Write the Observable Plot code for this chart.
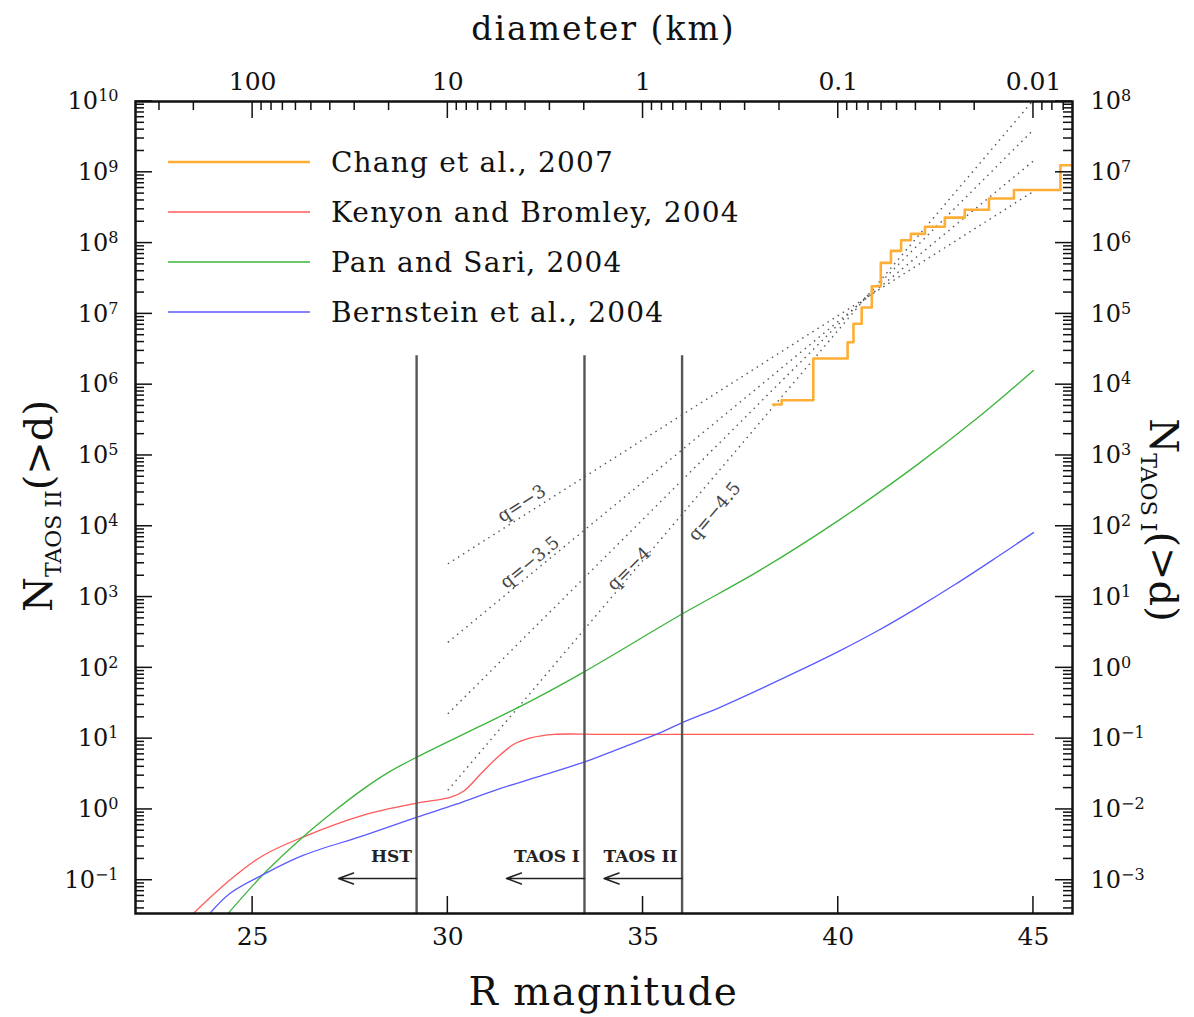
<!DOCTYPE html>
<html>
<head>
<meta charset="utf-8">
<script src="https://cdn.jsdelivr.net/npm/d3@7"></script>
<script src="https://cdn.jsdelivr.net/npm/@observablehq/plot@0.6"></script>
<style>
html,body{margin:0;padding:0;background:#fff;}
#chart{width:1194px;height:1017px;}
</style>
</head>
<body>
<div id="chart"></div>
<script>
// ---------------- DATA (R magnitude, log10 N) ----------------
const seriesNames = ["Chang et al., 2007", "Kenyon and Bromley, 2004", "Pan and Sari, 2004", "Bernstein et al., 2004"];
const seriesColors = ["#ffae35", "#ff5a5a", "#3cb43c", "#5a5aff"];

// Chang et al. 2007 (step function)
const changR    = [38.33, 38.55, 39.36, 40.24, 40.39, 40.60, 40.86, 41.09, 41.35, 41.61, 41.86, 42.22, 42.73, 43.24, 43.86, 44.50, 45.69, 45.95];
const changLogN = [5.72,  5.78,  6.37,  6.60,  6.86,  7.09,  7.39,  7.72,  7.89,  8.04,  8.13,  8.23,  8.36,  8.47,  8.63,  8.75,  9.10,  9.10];

// Kenyon and Bromley 2004
const kenyonR    = [23.48, 24.41, 25.27, 26.29, 27.84, 29.22, 30.06, 30.41, 30.84, 31.26, 31.69, 32.12, 32.72, 34.0, 38.0, 42.0, 45.0];
const kenyonLogN = [-1.47, -1.00, -0.65, -0.39, -0.08, 0.09,  0.17,  0.26,  0.50,  0.73,  0.92,  1.01,  1.06,  1.06, 1.06, 1.06, 1.06];

// Pan and Sari 2004
const panR    = [24.37, 25.27, 26.29, 27.1, 27.84, 28.5, 29.21, 30.84, 32.12, 33.48, 36.0, 38.0, 40.0, 42.0, 43.5, 45.0];
const panLogN = [-1.47, -0.92, -0.39, -0.02, 0.29, 0.53, 0.74,  1.18,  1.53,  1.94,  2.76, 3.38, 4.08, 4.86, 5.50, 6.20];

// Bernstein et al. 2004
const bernR    = [23.9, 24.41, 25.27, 26.29, 27.84, 29.21, 30.2, 31.26, 32.3, 33.45, 34.4, 35.38, 35.98, 37.0, 38.0, 39.0, 40.0, 41.0, 42.0, 43.0, 44.0, 45.0];
const bernLogN = [-1.47, -1.19, -0.92, -0.65, -0.37, -0.11, 0.07, 0.28, 0.46, 0.66, 0.86, 1.07, 1.22, 1.45, 1.70, 1.96, 2.23, 2.52, 2.84, 3.18, 3.54, 3.91];

// power-law reference lines
const qLabels     = ["q=\u22123", "q=\u22123.5", "q=\u22124", "q=\u22124.5"];
const qStartR     = [30, 30, 30, 30];
const qStartLogN  = [3.47, 2.36, 1.35, 0.27];
const qEndR       = [45, 45, 45, 45];
const qEndLogN    = [8.73, 9.16, 9.60, 10.02];
const qLabelR     = [31.89, 32.10, 34.64, 36.83];
const qLabelLogN  = [4.32, 3.49, 3.40, 4.21];

// survey limits
const limitNames   = ["HST", "TAOS I", "TAOS II"];
const limitR       = [29.2, 33.5, 36.0];
const limitTopLogN = 6.41;
const arrowLenMag  = 2.0;
const arrowLogN    = -0.975;
const limitTextLogN = -0.67;

// axes
const magTicks   = [25, 30, 35, 40, 45];
const diamTicks  = [100, 10, 1, 0.1, 0.01];
const diamLabels = ["100", "10", "1", "0.1", "0.01"];
const diamRefKm = 100, diamRefMag = 25, magPerDecade = 5;
const leftExps  = [-1, 0, 1, 2, 3, 4, 5, 6, 7, 8, 9, 10];
const rightOffsetExp = 2; // N_TAOS I = N_TAOS II / 100

const xDomain = [22, 46];
const yDomain = [Math.pow(10, -1.47), 1e10];

// ---------------- LAYOUT ----------------
const W = 1194, H = 1017;
const mL = 135, mR = 122, mT = 101, mB = 104;
const innerW = W - mL - mR, innerH = H - mT - mB;
const FONT = "'DejaVu Serif', 'Liberation Serif', serif";
const MAJ = 17, MIN = 9;

const pts = (R, L) => R.map((r, i) => ({R: r, N: Math.pow(10, L[i])}));
const chang = pts(changR, changLogN);
const kenyon = pts(kenyonR, kenyonLogN);
const pan = pts(panR, panLogN);
const bern = pts(bernR, bernLogN);

const pxPerMag = innerW / (xDomain[1] - xDomain[0]);
const pxPerDec = innerH / (Math.log10(yDomain[1]) - Math.log10(yDomain[0]));
const qData = qLabels.map((lab, i) => {
  const slope = (qEndLogN[i] - qStartLogN[i]) / (qEndR[i] - qStartR[i]);
  return {
    label: lab,
    x1: qStartR[i], y1: Math.pow(10, qStartLogN[i]),
    x2: qEndR[i], y2: Math.pow(10, qEndLogN[i]),
    lx: qLabelR[i], ly: Math.pow(10, qLabelLogN[i]),
    angle: -Math.atan(slope * pxPerDec / pxPerMag) * 180 / Math.PI
  };
});
const limits = limitNames.map((n, i) => ({name: n, R: limitR[i]}));

const decades = leftExps.map(e => Math.pow(10, e));
const yMinor = [];
for (let e = -2; e <= 9; e++) for (let m = 2; m <= 9; m++) {
  const v = m * Math.pow(10, e);
  if (v >= yDomain[0] && v <= yDomain[1]) yMinor.push(v);
}
const magOfDiam = d => diamRefMag - magPerDecade * Math.log10(d / diamRefKm);
const topMajor = diamTicks.map(magOfDiam);
const topLabelMap = new Map(topMajor.map((r, i) => [r, diamLabels[i]]));
const topMinor = [];
for (let e = -3; e <= 3; e++) for (let m = 2; m <= 9; m++) {
  const r = magOfDiam(m * Math.pow(10, e));
  if (r > xDomain[0] && r < xDomain[1]) topMinor.push(r);
}
const expOf = v => Math.round(Math.log10(v));

const plot = Plot.plot({
  width: W, height: H,
  marginLeft: mL, marginRight: mR, marginTop: mT, marginBottom: mB,
  style: {fontFamily: FONT, background: "#fff", color: "#111"},
  x: {type: "linear", domain: xDomain},
  y: {type: "log", domain: yDomain},
  marks: [
    // reference power laws
    Plot.link(qData, {x1: "x1", y1: "y1", x2: "x2", y2: "y2", stroke: "#555", strokeWidth: 1.4, strokeDasharray: "1.5,4.5", clip: true}),
    Plot.text(qData, {x: "lx", y: "ly", text: "label", rotate: "angle", fontSize: 18, fill: "#444", fontFamily: FONT}),
    // model curves
    Plot.line(kenyon, {x: "R", y: "N", stroke: seriesColors[1], strokeWidth: 1.3, curve: "catmull-rom", clip: true}),
    Plot.line(pan, {x: "R", y: "N", stroke: seriesColors[2], strokeWidth: 1.3, curve: "catmull-rom", clip: true}),
    Plot.line(bern, {x: "R", y: "N", stroke: seriesColors[3], strokeWidth: 1.3, curve: "catmull-rom", clip: true}),
    // survey limits
    Plot.ruleX(limits, {x: "R", y1: yDomain[0], y2: Math.pow(10, limitTopLogN), stroke: "#555", strokeWidth: 2.4}),
    Plot.arrow(limits, {x1: "R", x2: d => d.R - arrowLenMag, y1: Math.pow(10, arrowLogN), y2: Math.pow(10, arrowLogN),
      stroke: "#222", strokeWidth: 1.5, headLength: 16, headAngle: 40}),
    Plot.text(limits, {x: d => d.R - 0.12, y: Math.pow(10, limitTextLogN), text: "name", textAnchor: "end",
      fontSize: 17, fontWeight: "bold", fill: "#222", fontFamily: FONT}),
    // observed
    Plot.line(chang, {x: "R", y: "N", stroke: seriesColors[0], strokeWidth: 2.6, curve: "step-after", clip: true}),
    // frame
    Plot.frame({stroke: "#111", strokeWidth: 2.5}),
    // tick labels
    Plot.axisX(magTicks, {anchor: "bottom", tickSize: 0, tickPadding: 14, fontSize: 25, label: null, tickFormat: d => String(d)}),
    Plot.axisX(topMajor, {anchor: "top", tickSize: 0, tickPadding: 12, fontSize: 25, label: null, tickFormat: r => topLabelMap.get(r)}),
    Plot.axisY(decades, {anchor: "left", tickSize: 0, tickPadding: 17, fontSize: 24, label: null, tickFormat: v => "10^" + expOf(v)}),
    Plot.axisY(decades, {anchor: "right", tickSize: 0, tickPadding: 18, fontSize: 24, label: null, tickFormat: v => "10^" + (expOf(v) - rightOffsetExp)})
  ]
});

document.getElementById("chart").appendChild(plot);
const svg = d3.select(plot);

// superscripts for power-of-ten labels
svg.selectAll("text").each(function () {
  const t = d3.select(this);
  const s = t.text();
  const m = /^10\^(-?\d+)$/.exec(s);
  if (!m) return;
  t.text("10");
  t.append("tspan").attr("dy", "-0.5em").attr("font-size", 16).text(m[1].replace("-", "\u2212"));
});

// inward tick marks placed with Plot's own scales
const xs = plot.scale("x"), ys = plot.scale("y");
const tg = svg.append("g").attr("stroke", "#111").attr("stroke-width", 1.5);
const yTop = mT, yBot = H - mB, xLeft = mL, xRight = W - mR;
magTicks.forEach(v => { const x = xs.apply(v); tg.append("line").attr("x1", x).attr("x2", x).attr("y1", yBot).attr("y2", yBot - MAJ); });
topMajor.forEach(v => { const x = xs.apply(v); tg.append("line").attr("x1", x).attr("x2", x).attr("y1", yTop).attr("y2", yTop + MAJ); });
topMinor.forEach(v => { const x = xs.apply(v); tg.append("line").attr("x1", x).attr("x2", x).attr("y1", yTop).attr("y2", yTop + MIN); });
decades.forEach(v => { const y = ys.apply(v);
  tg.append("line").attr("x1", xLeft).attr("x2", xLeft + MAJ).attr("y1", y).attr("y2", y);
  tg.append("line").attr("x1", xRight).attr("x2", xRight - MAJ).attr("y1", y).attr("y2", y); });
yMinor.forEach(v => { const y = ys.apply(v);
  tg.append("line").attr("x1", xLeft).attr("x2", xLeft + MIN).attr("y1", y).attr("y2", y);
  tg.append("line").attr("x1", xRight).attr("x2", xRight - MIN).attr("y1", y).attr("y2", y); });

// ---------------- titles & legend ----------------
const cx = mL + innerW / 2;
svg.append("text").attr("x", cx).attr("y", 1005).attr("text-anchor", "middle")
  .attr("font-family", FONT).attr("font-size", 39).attr("letter-spacing", 1.5).attr("fill", "#111").text("R magnitude");
svg.append("text").attr("x", cx).attr("y", 40).attr("text-anchor", "middle")
  .attr("font-family", FONT).attr("font-size", 33).attr("letter-spacing", 2).attr("fill", "#111").text("diameter (km)");

const lt = svg.append("text").attr("transform", "translate(52,506) rotate(-90)").attr("text-anchor", "middle")
  .attr("font-family", FONT).attr("font-size", 40).attr("fill", "#111");
lt.append("tspan").text("N");
lt.append("tspan").attr("font-size", 22).attr("dy", 9).text("TAOS II");
lt.append("tspan").attr("dy", -9).text("(>d)");

const rt = svg.append("text").attr("transform", "translate(1150,520) rotate(90)").attr("text-anchor", "middle")
  .attr("font-family", FONT).attr("font-size", 40).attr("fill", "#111");
rt.append("tspan").text("N");
rt.append("tspan").attr("font-size", 22).attr("dy", 9).text("TAOS I");
rt.append("tspan").attr("dy", -9).text("(>d)");

const lg = svg.append("g");
const lgWidths = [2.6, 1.3, 1.3, 1.3];
seriesNames.forEach((name, i) => {
  const y = 162 + i * 50;
  lg.append("line").attr("x1", 168).attr("x2", 310).attr("y1", y).attr("y2", y)
    .attr("stroke", seriesColors[i]).attr("stroke-width", lgWidths[i]);
  lg.append("text").attr("x", 331).attr("y", y).attr("dy", "0.35em").attr("text-anchor", "start")
    .attr("font-family", FONT).attr("font-size", 28).attr("letter-spacing", 1.2).attr("fill", "#111").text(name);
});
</script>
</body>
</html>
